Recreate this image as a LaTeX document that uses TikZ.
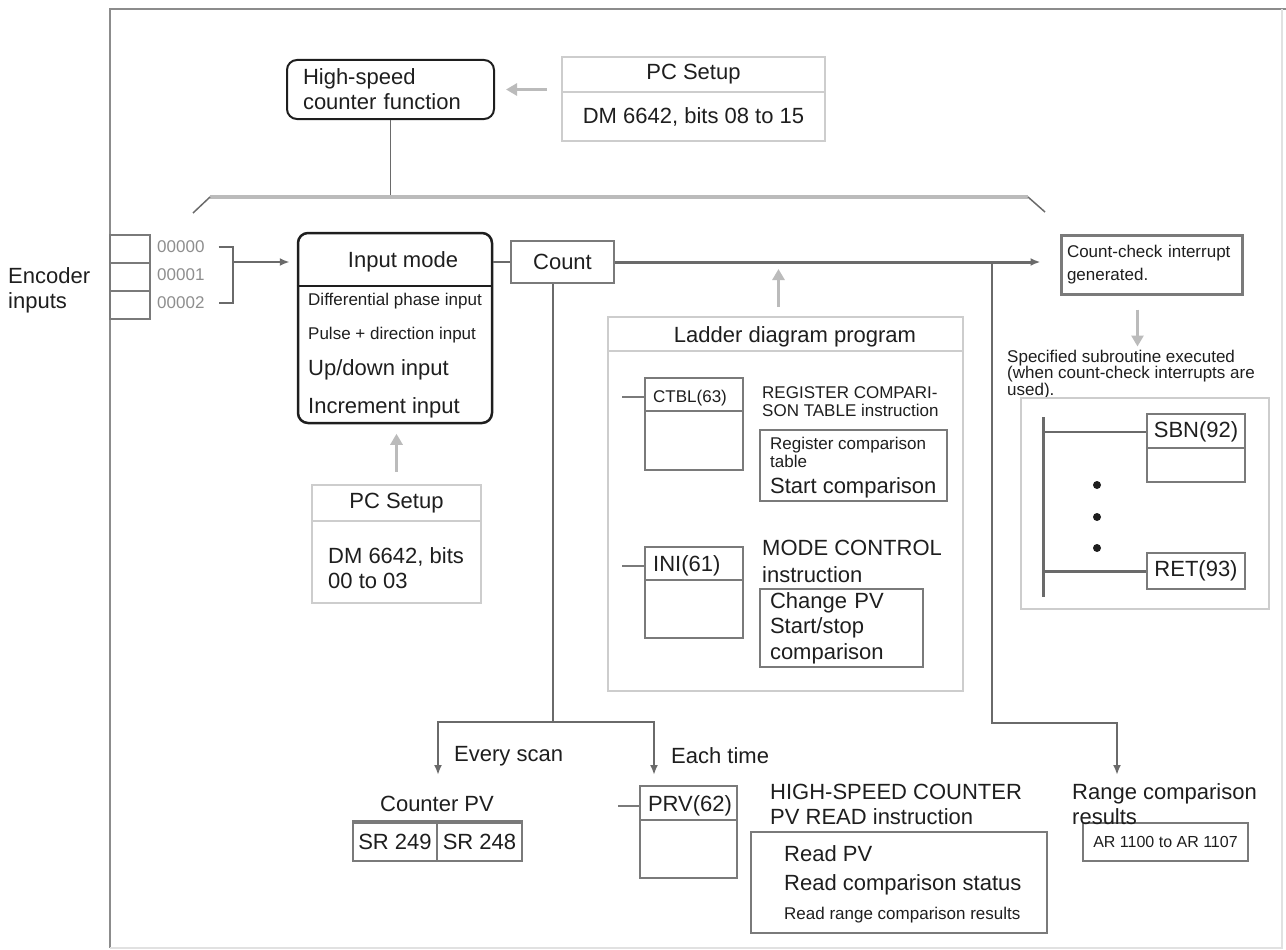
\documentclass[tikz,border=0pt]{standalone}
\usepackage{fontspec}
\setmainfont{Liberation Sans}
\usetikzlibrary{arrows.meta,positioning}
\definecolor{ink}{HTML}{1E1E1E}
\definecolor{wiregray}{HTML}{6A6A6A}
\definecolor{boxgray}{HTML}{7A7A7A}
\definecolor{palegray}{HTML}{CDCDCD}
\definecolor{arrgray}{HTML}{BBBBBB}
\definecolor{framegray}{HTML}{8C8C8C}
\definecolor{codegray}{HTML}{8E8E8E}
\newcommand\fbig{\fontsize{22}{25}\selectfont}
\newcommand\fsmall{\fontsize{17}{18}\selectfont}

\begin{document}
\begin{tikzpicture}[x=1pt,y=-1pt,font=\fbig,
    box/.style={draw=boxgray,line width=2pt,inner sep=0pt,text=ink},
    pale/.style={draw=palegray,line width=2.5pt,inner sep=0pt,text=ink},
    wire/.style={draw=wiregray,line width=2.5pt},
    arrowed/.style={-{Latex[length=10pt,width=8pt]}},
    hint/.style={draw=arrgray,line width=3.5pt,-{Triangle[length=11pt,width=12pt]}},
    lbl/.style={inner sep=0pt,text=ink,align=left},
    fine/.style={font=\fsmall}]
  \useasboundingbox (0,0) rectangle (1286,950);
  % frame
  \draw[framegray,line width=2.5pt] (110,948) -- (110,9) -- (1286,9);
  \draw[palegray!60,line width=1.5pt] (1282,9) -- (1282,948) -- (110,948);

  % counter function and its setup
  \node[draw=ink,line width=2pt,rounded corners=10pt,inner sep=0pt,minimum width=207pt,minimum height=59pt,text width=175pt,align=left,text=ink] (hs) at (390.5,89.5) {High-speed\\counter function};
  \node[pale,minimum width=263pt,minimum height=35pt] (pcsA) at (693.5,74.5) {PC Setup};
  \node[pale,minimum width=263pt,minimum height=49pt] (pcsB) at (693.5,116.5) {DM 6642, bits 08 to 15};
  \draw[hint] ([xshift=52pt]hs.east) -- ([xshift=11pt]hs.east);
  \coordinate (brL) at (210,197);
  \coordinate (brR) at (1028,197);
  \draw[wiregray,line width=1.5pt] (hs.south) -- (hs.south |- brL);
  \draw[arrgray,line width=4pt] (brL) -- (brR);
  \draw[wiregray,line width=1.5pt] (brL) -- ++(-17,16);
  \draw[wiregray,line width=1.5pt] (brR) -- ++(17,15);

  % encoder inputs
  \node[box,line width=1.5pt,minimum width=40pt,minimum height=28pt] (enc0) at (130,249) {};
  \node[box,line width=1.5pt,minimum width=40pt,minimum height=28pt] (enc1) at (130,277) {};
  \node[box,line width=1.5pt,minimum width=40pt,minimum height=28pt] (enc2) at (130,305) {};
  \node[lbl,anchor=west] (enclab) at (8,290) {Encoder\\inputs};
  \node[lbl,fine,text=codegray,anchor=west] (in0) at (157,247) {00000};
  \node[lbl,fine,text=codegray,anchor=west] (in1) at (157,275) {00001};
  \node[lbl,fine,text=codegray,anchor=west] (in2) at (157,303) {00002};

  % input mode
  \node[draw=ink,line width=2.5pt,rounded corners=10pt,inner sep=0pt,minimum width=194pt,minimum height=190pt] (inmode) at (395,328) {};
  \draw[ink,line width=2.5pt] ([yshift=-54pt]inmode.north west) -- ([yshift=-54pt]inmode.north east);
  \node[lbl] (imtitle) at (403,262) {Input mode};
  \node[lbl,fine,anchor=west] (im1) at (308,301) {Differential phase input};
  \node[lbl,fine,anchor=west] (im2) at (308,335) {Pulse + direction input};
  \node[lbl,anchor=west] (im3) at (308,370) {Up/down input};
  \node[lbl,anchor=west] (im4) at (308,408) {Increment input};
  \coordinate (encj) at (233,262);
  \draw[wire,line width=2pt] ([xshift=14pt]in0.east) -| (encj) |- ([xshift=14pt]in2.east);
  \draw[wire,line width=2pt,arrowed,shorten >=7pt] (encj) -- (encj -| inmode.west);
  \node[pale,minimum width=169pt,minimum height=36pt] (pcsC) at (396.5,503) {PC Setup};
  \node[pale,minimum width=169pt,minimum height=82pt] (pcsD) at (396.5,562) {};
  \node[lbl,anchor=west] (pcsDtxt) at (328,568) {DM 6642, bits\\00 to 03};
  \draw[hint] ([yshift=12pt]pcsC.north) -- ([yshift=50pt]pcsC.north);

  % count and interrupt
  \node[box,line width=2.5pt,minimum width=103pt,minimum height=42pt] (count) at (562.5,262) {Count};
  \node[draw=boxgray,line width=3pt,inner sep=0pt,minimum width=181pt,minimum height=59pt,text width=169pt,align=left,font=\fontsize{17}{23}\selectfont,text=ink] (cc) at (1151.5,264.5) {Count-check interrupt\\generated.};
  \draw[wire] (inmode.east |- count.west) -- (count.west);
  \draw[wire,line width=3pt,arrowed,shorten >=19pt] (count.east) -- (count.east -| cc.west);
  \draw[hint] ([xshift=-14pt,yshift=-14pt]cc.south) -- ([xshift=-14pt,yshift=-51pt]cc.south);

  % ladder diagram program
  \node[draw=palegray,line width=2pt,inner sep=0pt,minimum width=355pt,minimum height=374pt] (ladder) at (785.5,504) {};
  \draw[palegray,line width=2pt] ([yshift=-35pt]ladder.north west) -- ([yshift=-35pt]ladder.north east);
  \node[lbl] (ldtitle) at (795,337) {Ladder diagram program};
  \draw[hint] ([xshift=-7pt,yshift=9pt]ladder.north) -- ([xshift=-7pt,yshift=47pt]ladder.north);
  \node[box,minimum width=98pt,minimum height=92pt] (ctbl) at (694,424) {};
  \draw[boxgray,line width=2pt] ([yshift=-34pt]ctbl.north west) -- ([yshift=-34pt]ctbl.north east);
  \draw[boxgray,line width=2pt] ([xshift=-22pt,yshift=-20pt]ctbl.north west) -- ([yshift=-20pt]ctbl.north west);
  \node[lbl,fine,anchor=west] (ctbltxt) at (653,398) {CTBL(63)};
  \node[lbl,fine,anchor=west] (regtitle) at (762,402) {REGISTER COMPARI-\\SON TABLE instruction};
  \node[box,line width=2.5pt,minimum width=187pt,minimum height=71pt] (regbox) at (853.5,465.5) {};
  \node[lbl,fine,anchor=west] (regtxt) at (770,452) {Register comparison\\table};
  \node[lbl,anchor=west] (startcmp) at (770,488) {Start comparison};
  \node[box,minimum width=98pt,minimum height=91pt] (ini) at (694,592.5) {};
  \draw[boxgray,line width=2pt] ([yshift=-34pt]ini.north west) -- ([yshift=-34pt]ini.north east);
  \draw[boxgray,line width=2pt] ([xshift=-22pt,yshift=-20pt]ini.north west) -- ([yshift=-20pt]ini.north west);
  \node[lbl,anchor=west] (initxt) at (653,566) {INI(61)};
  \node[lbl,anchor=west,font=\fontsize{22}{27}\selectfont] (modetxt) at (762,561.5) {MODE CONTROL\\instruction};
  \node[box,line width=2.5pt,minimum width=163pt,minimum height=78pt,text width=143pt,align=left,font=\fontsize{22}{25.5}\selectfont] (chg) at (841.5,628) {Change PV\\Start/stop\\comparison};

  % subroutine
  \node[lbl,anchor=west,font=\fontsize{17}{16.5}\selectfont] (spectxt) at (1007,374.5) {Specified subroutine executed\\(when count-check interrupts are\\used).};
  \node[draw=palegray,line width=2pt,inner sep=0pt,minimum width=248pt,minimum height=211pt] (sub) at (1145,503.5) {};
  \node[box,line width=2.5pt,minimum width=98pt,minimum height=68pt] (sbn) at (1196,448) {};
  \draw[boxgray,line width=2.5pt] ([yshift=-35pt]sbn.north west) -- ([yshift=-35pt]sbn.north east);
  \node[lbl] (sbntxt) at (1196,432) {SBN(92)};
  \node[box,line width=2.5pt,minimum width=98pt,minimum height=36pt] (ret) at (1196,571) {RET(93)};
  \coordinate (railtop) at (1043,417);
  \coordinate (railbot) at (1043,597);
  \draw[wiregray,line width=3pt] (railtop) -- (railbot);
  \draw[wiregray,line width=2pt] (railtop |- sbntxt) -- (sbn.west |- sbntxt);
  \draw[wiregray,line width=3pt] (railtop |- ret) -- (ret.west);
  \fill[ink] (1097,485) circle[radius=4pt];
  \fill[ink] (1097,517) circle[radius=4pt];
  \fill[ink] (1097,548) circle[radius=4pt];

  % outputs of the count
  \coordinate (cj) at (553,722);
  \coordinate (tipA) at (438,775);
  \coordinate (tipB) at (654,775);
  \draw[wire] ([xshift=-9.5pt]count.south) -- (cj);
  \draw[wire,arrowed] (cj) -| (tipA);
  \draw[wire,arrowed] (cj) -| (tipB);
  \node[lbl,anchor=west] (everyscan) at (454,756) {Every scan};
  \node[lbl,anchor=west] (eachtime) at (671,756) {Each time};
  \node[lbl] (cpv) at (437,804) {Counter PV};
  \node[box,minimum width=84pt,minimum height=38pt] (srA) at (395,842) {SR 249};
  \node[box,minimum width=85pt,minimum height=38pt] (srB) at (479.5,842) {SR 248};
  \draw[boxgray,line width=4pt] (srA.north west) -- (srB.north east);
  \node[box,minimum width=97pt,minimum height=92pt] (prv) at (688.5,832) {};
  \draw[boxgray,line width=2pt] ([yshift=-35pt]prv.north west) -- ([yshift=-35pt]prv.north east);
  \draw[boxgray,line width=2pt] ([xshift=-21pt,yshift=-21pt]prv.north west) -- ([yshift=-21pt]prv.north west);
  \node[lbl] (prvtxt) at (690,806) {PRV(62)};
  \node[lbl,anchor=west] (hsread) at (770,804.5) {HIGH-SPEED COUNTER\\PV READ instruction};
  \node[box,line width=2.5pt,minimum width=296pt,minimum height=101pt] (readbox) at (899,882.5) {};
  \node[lbl,anchor=west] (rd1) at (784,854) {Read PV};
  \node[lbl,anchor=west] (rd2) at (784,885) {Read comparison status};
  \node[lbl,fine,anchor=west] (rd3) at (784,915) {Read range comparison results};
  \coordinate (rb) at (992,262);
  \coordinate (rj) at (1117,723);
  \coordinate (tipC) at (1117,775);
  \draw[wire,line width=2pt,arrowed] (rb) |- (rj) -- (tipC);
  \node[box,minimum width=165pt,minimum height=38pt,font=\fontsize{16}{18}\selectfont] (arbox) at (1165.5,842) {AR 1100 to AR 1107};
  \node[lbl,anchor=west] (rngtxt) at (1072,804.5) {Range comparison\\results};
\end{tikzpicture}
\end{document}
